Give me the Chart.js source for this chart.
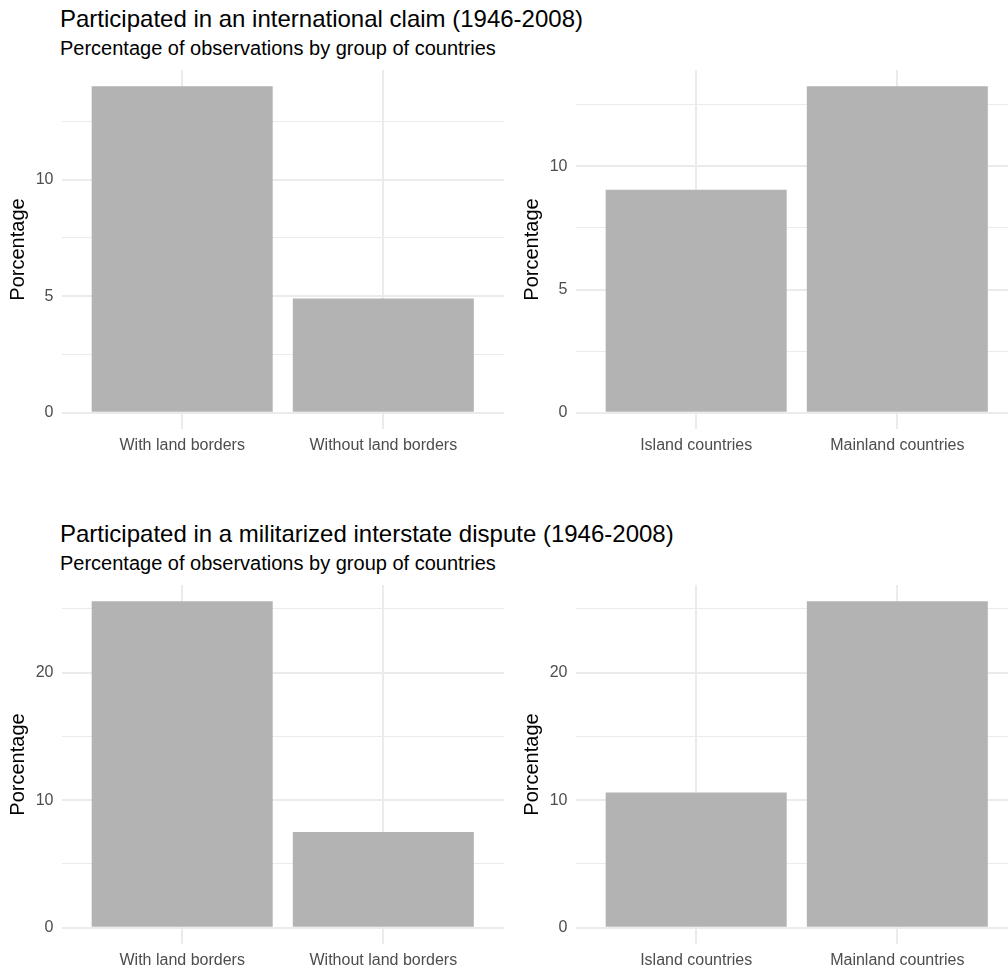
<!DOCTYPE html>
<html>
<head>
<meta charset="utf-8">
<script src="https://cdn.jsdelivr.net/npm/chart.js@4"></script>
<style>
  html, body { margin: 0; padding: 0; background: #ffffff; overflow: hidden; width: 1008px; height: 970px; }
  body { position: relative; font-family: "Liberation Sans", Arial, sans-serif; color: #000; }
  .title { position: absolute; left: 60px; font-size: 24px; line-height: 24px; white-space: nowrap; }
  .subtitle { position: absolute; left: 60px; font-size: 20px; line-height: 20px; white-space: nowrap; }
  canvas { position: absolute; }
</style>
</head>
<body>
<div class="title" style="top:7px">Participated in an international claim (1946-2008)</div>
<div class="subtitle" style="top:38px">Percentage of observations by group of countries</div>
<div class="title" style="top:522px">Participated in a militarized interstate dispute (1946-2008)</div>
<div class="subtitle" style="top:553px">Percentage of observations by group of countries</div>

<canvas id="c1" width="504" height="404" style="left:0px; top:70px"></canvas>
<canvas id="c2" width="504" height="404" style="left:514px; top:70px"></canvas>
<canvas id="c3" width="504" height="404" style="left:0px; top:585px"></canvas>
<canvas id="c4" width="504" height="404" style="left:514px; top:585px"></canvas>

<script>
// ---- Data ----
const borderCategories = ["With land borders", "Without land borders"];
const islandCategories = ["Island countries", "Mainland countries"];

const claimBorderValues = [14.0, 4.9];
const claimIslandValues = [9.05, 13.25];
const midBorderValues = [25.6, 7.5];
const midIslandValues = [10.6, 25.6];

const claimGridTicks = [0, 2.5, 5, 7.5, 10, 12.5];
const claimLabelTicks = [0, 5, 10];
const midGridTicks = [0, 5, 10, 15, 20, 25];
const midLabelTicks = [0, 10, 20];

const yTitle = "Porcentage";

// ---- Styling ----
Chart.defaults.font.family = '"Liberation Sans", Arial, sans-serif';
const BAR = '#b3b3b3';
const GRID = '#ebebeb';
const TEXT = '#4d4d4d';

function makeChart(id, categories, values, gridTicks, labelTicks) {
  const vmax = Math.max(...values);
  const yMax = vmax * 1.05;
  const yMin = -vmax * 0.05;
  new Chart(document.getElementById(id), {
    type: 'bar',
    data: {
      datasets: [{
        data: values.map((v, i) => ({ x: i + 1, y: v })),
        backgroundColor: BAR,
        borderWidth: 0,
        barPercentage: 0.9,
        categoryPercentage: 1.0
      }]
    },
    options: {
      responsive: false,
      animation: false,
      events: [],
      layout: { padding: 0 },
      plugins: { legend: { display: false }, tooltip: { enabled: false }, title: { display: false } },
      scales: {
        x: {
          type: 'linear',
          min: 0.4,
          max: categories.length + 0.6,
          offset: false,
          afterBuildTicks: s => { s.ticks = categories.map((c, i) => ({ value: i + 1 })); },
          afterFit: s => { s.height = 45; s.paddingLeft = 0; s.paddingRight = 0; s.paddingTop = 0; s.paddingBottom = 0; },
          ticks: {
            autoSkip: false,
            maxRotation: 0,
            padding: 7,
            color: TEXT,
            font: { size: 16 },
            callback: v => categories[Math.round(v) - 1]
          },
          grid: { color: GRID, lineWidth: 2, drawTicks: false, offset: false },
          border: { display: false }
        },
        y: {
          type: 'linear',
          min: yMin,
          max: yMax,
          afterBuildTicks: s => { s.ticks = gridTicks.map(v => ({ value: v })); },
          afterFit: s => { s.width = 61.5; s.paddingLeft = 0; s.paddingRight = 0; s.paddingTop = 0; s.paddingBottom = 0; },
          ticks: {
            autoSkip: false,
            padding: 8,
            color: TEXT,
            font: { size: 16 },
            callback: v => (labelTicks.includes(v) ? String(v) : '')
          },
          grid: {
            color: GRID,
            lineWidth: ctx => (ctx.tick && labelTicks.includes(ctx.tick.value) ? 2 : 1),
            drawTicks: false
          },
          border: { display: false },
          title: {
            display: true,
            text: yTitle,
            color: '#000000',
            font: { size: 20 },
            padding: { top: 6, bottom: 0 }
          }
        }
      }
    }
  });
}

makeChart('c1', borderCategories, claimBorderValues, claimGridTicks, claimLabelTicks);
makeChart('c2', islandCategories, claimIslandValues, claimGridTicks, claimLabelTicks);
makeChart('c3', borderCategories, midBorderValues, midGridTicks, midLabelTicks);
makeChart('c4', islandCategories, midIslandValues, midGridTicks, midLabelTicks);
</script>
</body>
</html>
